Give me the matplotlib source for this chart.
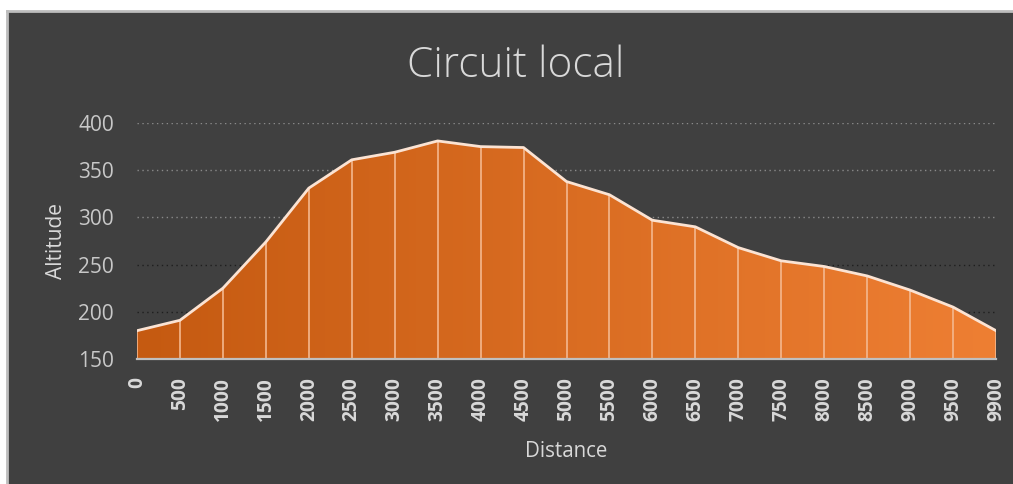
import matplotlib.pyplot as plt
import numpy as np
from matplotlib.patches import Polygon, Rectangle
from matplotlib.colors import LinearSegmentedColormap

# ── Data ──
distances = [0, 500, 1000, 1500, 2000, 2500, 3000, 3500, 4000, 4500,
             5000, 5500, 6000, 6500, 7000, 7500, 8000, 8500, 9000, 9500, 9900]
altitudes = [180, 191, 225, 274, 331, 361, 369, 381, 375, 374,
             338, 324, 297, 290, 268, 254, 248, 238, 223, 205, 180]
y_ticks = [150, 200, 250, 300, 350, 400]

# ── Colors ──
C_BG = "#404040"
C_TEXT = "#D9D9D9"
C_TICK = "#C8C8C8"
C_AXIS = "#BFBFBF"
C_LEFT = "#C55A11"
C_RIGHT = "#EE7F33"
C_LINE = "#FBE3D3"
C_DROP = "#F4B88F"

FONT = "Open Sans"

fig = plt.figure(figsize=(10.13, 4.84), dpi=100)
fig.patch.set_facecolor("white")

# dark chart panel with light border on top/left
fig.patches.append(Rectangle((7 / 1013, 0), 1, 1 - 11 / 484, transform=fig.transFigure,
                             facecolor=C_BG, edgecolor="none", zorder=-10))
fig.lines.append(plt.Line2D([7 / 1013, 1], [1 - 11 / 484] * 2, transform=fig.transFigure,
                            color="#BDBDBD", lw=2, zorder=-9))
fig.lines.append(plt.Line2D([7 / 1013] * 2, [0, 1 - 11 / 484], transform=fig.transFigure,
                            color="#BDBDBD", lw=2, zorder=-9))

ax = fig.add_axes([137 / 1013, 1 - 359 / 484, (996 - 137) / 1013, (359 - 123) / 484])
ax.set_facecolor("none")

x = np.arange(len(distances))
ax.set_xlim(0, len(distances) - 1)
ax.set_ylim(y_ticks[0], y_ticks[-1])

# gridlines (dotted)
for yv in y_ticks[1:]:
    col = "#1E1E1E" if yv < 300 else "#8A8A8A"
    ax.axhline(yv, color=col, lw=1.0, ls=(0, (1, 2.5)), zorder=1)

# gradient area
verts = [(x[0], y_ticks[0])] + list(zip(x, altitudes)) + [(x[-1], y_ticks[0])]
clip = Polygon(verts, closed=True, facecolor="none", edgecolor="none")
ax.add_patch(clip)
cmap = LinearSegmentedColormap.from_list("grad", [C_LEFT, C_RIGHT])
grad = np.linspace(0, 1, 256).reshape(1, -1)
im = ax.imshow(grad, cmap=cmap, aspect="auto", zorder=2,
               extent=[x[0], x[-1], y_ticks[0], y_ticks[-1]], origin="lower")
im.set_clip_path(clip)

# drop lines and top line
ax.vlines(x, y_ticks[0], altitudes, color=C_DROP, lw=1.4, alpha=0.85, zorder=3)
ax.plot(x, altitudes, color=C_LINE, lw=2.0, zorder=4, solid_joinstyle="round")

# axes styling
for s in ["top", "right", "left"]:
    ax.spines[s].set_visible(False)
ax.spines["bottom"].set_color(C_AXIS)
ax.spines["bottom"].set_linewidth(1.6)
ax.spines["bottom"].set_zorder(5)

ax.set_yticks(y_ticks)
ax.set_yticklabels([str(v) for v in y_ticks], fontsize=15, color=C_TICK, family=FONT)
ax.set_xticks(x)
ax.set_xticklabels([str(d) for d in distances], rotation=90, fontsize=13.8,
                   fontweight="bold", color=C_TEXT, family=FONT, va="top", ha="center")
ax.tick_params(axis="both", length=0)
ax.tick_params(axis="y", pad=16.5)
ax.tick_params(axis="x", pad=13)

fig.text(56 / 1013, 1 - 241 / 484, "Altitude", rotation=90, ha="center", va="center",
         fontsize=15, color=C_TEXT, family=FONT)
fig.text(566 / 1013, 1 - 457 / 484, "Distance", ha="center", va="baseline",
         fontsize=14.8, color=C_TEXT, family=FONT)
fig.text(516 / 1013, 1 - 77 / 484, "Circuit local", ha="center", va="baseline",
         fontsize=30.5, color=C_TEXT, family=FONT, fontweight="light")

fig.savefig("out.png", dpi=100, facecolor="white")
